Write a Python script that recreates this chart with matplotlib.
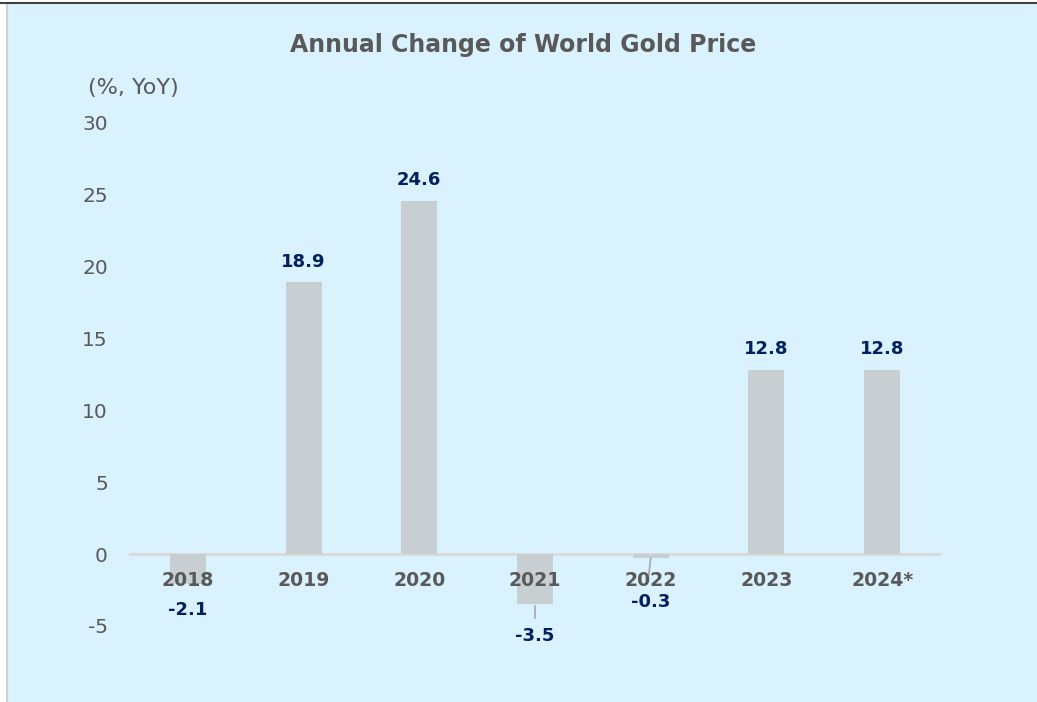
import matplotlib.pyplot as plt
from matplotlib.patches import Rectangle
from matplotlib.lines import Line2D

plt.rcParams['axes.unicode_minus'] = False

years = ['2018', '2019', '2020', '2021', '2022', '2023', '2024*']
change = [-2.1, 18.9, 24.6, -3.5, -0.3, 12.8, 12.8]

# where the labels of the negative bars sit (distance below the bar end)
neg_offset = {0: 1.8, 3: 2.2, 4: 3.05}

bg = '#DAF2FD'
fig = plt.figure(figsize=(10.37, 7.02), dpi=100, facecolor='white')

# light blue panel with thin borders
fig.patches.append(Rectangle((8/1037, 0), 1, 1 - 4/702, transform=fig.transFigure,
                             facecolor=bg, edgecolor='none', zorder=-2))
fig.lines.append(Line2D([6.5/1037, 6.5/1037], [0, 1 - 4/702], transform=fig.transFigure,
                        color='#D0D0D0', lw=1.5))
fig.lines.append(Line2D([0, 1], [1 - 2.5/702, 1 - 2.5/702], transform=fig.transFigure,
                        color='#404040', lw=1.5))

ax = fig.add_axes([130/1037, (702 - 697.7)/702, 810/1037, (697.7 - 123)/702])
ax.set_facecolor('none')
for s in ['top', 'right', 'left']:
    ax.spines[s].set_visible(False)
ax.spines['bottom'].set_position(('data', 0))
ax.spines['bottom'].set_color('#D9D9D9')
ax.spines['bottom'].set_linewidth(2)
ax.spines['bottom'].set_zorder(1)
ax.set_axisbelow(False)

x = range(len(years))
ax.bar(x, change, width=0.31, color='#C7CFD3', zorder=2)

ax.set_xlim(-0.5, 6.5)
ax.set_ylim(-10, 30)
ax.set_yticks(range(-5, 31, 5))
ax.set_xticks(list(x))
ax.set_xticklabels(years)
plt.setp(ax.get_xticklabels(), fontsize=13.6, fontweight='bold', color='#595959')
ax.xaxis.set_zorder(5)
ax.tick_params(axis='x', length=0, pad=12.5)
ax.tick_params(axis='y', length=0, pad=16, labelsize=14.5, labelcolor='#595959')

navy = '#002060'
for i, v in enumerate(change):
    if v >= 0:
        ax.text(i, v + 1.45, f'{v:.1f}', ha='center', va='center',
                fontsize=13, fontweight='bold', color=navy, zorder=4)
    else:
        ax.text(i, v - neg_offset[i], f'{v:.1f}', ha='center', va='center',
                fontsize=13, fontweight='bold', color=navy, zorder=4)

# leader lines
ax.plot([3, 3], [-3.6, -4.45], color='#A6A6A6', lw=1.2, zorder=3)
ax.plot([4, 3.983], [-0.3, -1.45], color='#A6A6A6', lw=1.2, zorder=3)

fig.text(523/1037, 1 - 45/702, 'Annual Change of World Gold Price', ha='center', va='center',
         fontsize=17, fontweight='bold', color='#595959')
fig.text(88/1037, 1 - 88/702, '(%, YoY)', ha='left', va='center',
         fontsize=16, color='#595959')

fig.savefig('out.png', dpi=100, facecolor=fig.get_facecolor())
